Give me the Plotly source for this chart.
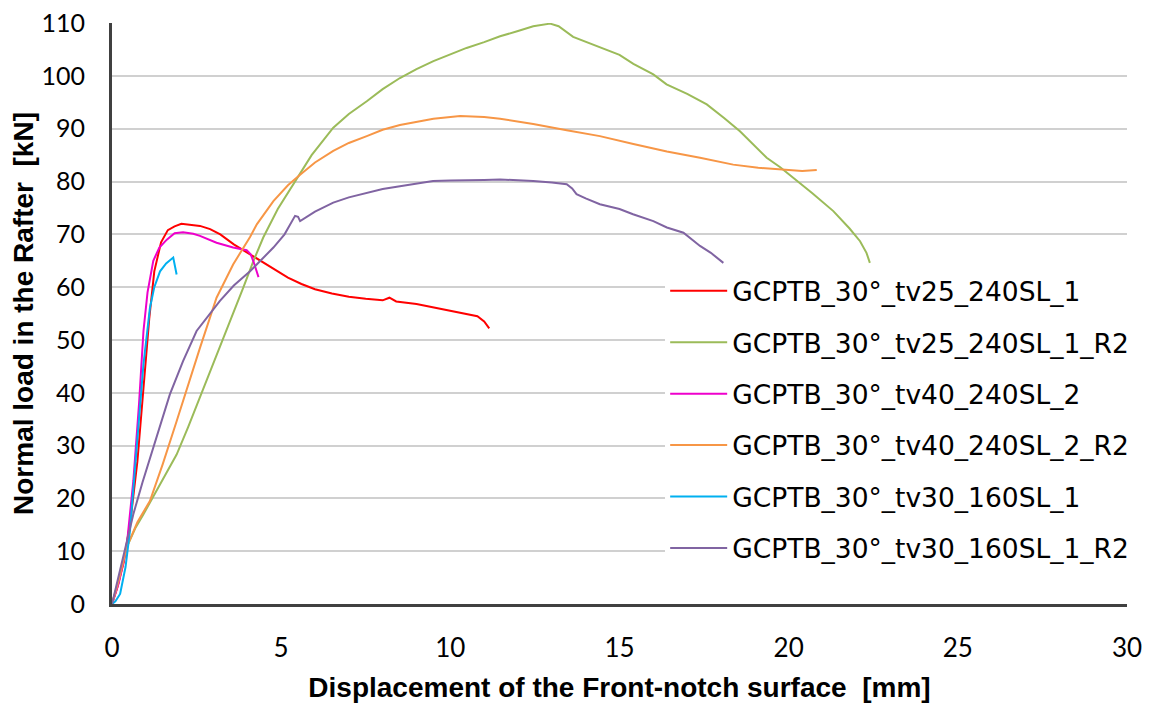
import plotly.graph_objects as go

# ---- data ----
names = ["GCPTB_30°_tv25_240SL_1", "GCPTB_30°_tv25_240SL_1_R2", "GCPTB_30°_tv40_240SL_2",
         "GCPTB_30°_tv40_240SL_2_R2", "GCPTB_30°_tv30_160SL_1", "GCPTB_30°_tv30_160SL_1_R2"]
colors = ["#FF0000", "#9BBB59", "#EE00CC", "#F79646", "#00B0F0", "#8064A2"]

red_x = [0, 0.15, 0.35, 0.55, 0.75, 0.95, 1.1, 1.25, 1.45, 1.65, 1.85, 2.05, 2.3, 2.6, 2.9, 3.2, 3.6, 4.0,
         4.4, 4.8, 5.2, 5.6, 6.0, 6.5, 7.0, 7.5, 8.0, 8.2, 8.4, 9.0, 9.5, 10.0, 10.5, 10.8, 11.0, 11.15]
red_y = [0, 3, 8, 16, 27, 42, 54, 63, 68.5, 70.8, 71.5, 72, 71.8, 71.6, 71, 70, 68.1, 66.5,
         64.9, 63.3, 61.8, 60.6, 59.6, 58.8, 58.2, 57.8, 57.5, 58.0, 57.3, 56.8, 56.2, 55.6, 55.0, 54.5, 53.5, 52.2]

green_x = [0, 0.2, 0.43, 0.7, 0.93, 1.4, 1.91, 2.25, 2.6, 2.95, 3.29, 3.6, 3.88, 4.17, 4.47, 4.9, 5.36, 5.9,
           6.54, 7.0, 7.53, 8.0, 8.51, 9.0, 9.5, 10.0, 10.48, 11.0, 11.47, 12.0, 12.45, 12.95, 13.2, 13.63,
           14.0, 14.42, 15.0, 15.41, 16.0, 16.39, 17.0, 17.58, 18.1, 18.56, 19.0, 19.35, 19.75, 20.14, 20.7,
           21.32, 21.8, 22.11, 22.3, 22.4]
green_y = [0, 4.5, 10.7, 14.5, 17, 22.5, 28.3, 33.5, 39.1, 44.8, 50.4, 55.3, 59.9, 64.8, 69.4, 74.8, 79.4, 85,
           90.2, 92.8, 95.2, 97.5, 99.6, 101.3, 102.8, 104.1, 105.3, 106.4, 107.5, 108.5, 109.4, 109.9, 109.4, 107.4,
           106.5, 105.4, 104, 102.3, 100.3, 98.4, 96.6, 94.6, 92, 89.5, 86.8, 84.5, 82.7, 80.7, 77.8,
           74.4, 71.1, 68.7, 66.5, 64.6]

magenta_x = [0, 0.2, 0.43, 0.63, 0.8, 0.93, 1.05, 1.22, 1.4, 1.62, 1.85, 2.1, 2.4, 2.6, 3.09, 3.58, 3.98,
             4.1, 4.18, 4.33]
magenta_y = [0, 4, 10.7, 23.3, 38, 51.7, 59, 65, 67.5, 69, 70.2, 70.4, 70.1, 69.7, 68.4, 67.5, 67.0,
             66.2, 64.9, 61.9]

orange_x = [0, 0.2, 0.43, 0.75, 1.12, 1.5, 1.91, 2.25, 2.6, 3.09, 3.58, 4.08, 4.28, 4.77, 5.2, 5.56, 6.0, 6.54,
            7.0, 7.53, 8.0, 8.51, 9.0, 9.5, 10.29, 11.0, 11.47, 12.45, 13.44, 14.42, 15.41, 16.4, 17.38, 18.36,
            19.1, 19.84, 20.4, 20.83]
orange_y = [0, 4.5, 10.7, 15.5, 19.5, 26.5, 34.6, 41.5, 48.5, 58, 64.3, 69.5, 71.9, 76.3, 79.3, 81.3, 83.6, 85.8,
            87.3, 88.6, 89.8, 90.7, 91.3, 91.9, 92.4, 92.2, 91.9, 90.9, 89.7, 88.6, 87.1, 85.7, 84.5, 83.2,
            82.6, 82.3, 82.0, 82.2]

cyan_x = [0, 0.1, 0.24, 0.4, 0.53, 0.73, 0.93, 1.12, 1.25, 1.42, 1.6, 1.81, 1.86, 1.91]
cyan_y = [0, 0.5, 1.9, 7, 13.8, 29.6, 45.4, 56, 60, 63, 64.5, 65.6, 64, 62.4]

purple_x = [0, 0.3, 0.63, 0.9, 1.22, 1.71, 2.1, 2.5, 3.19, 3.6, 4.08, 4.77, 5.1, 5.41, 5.5, 5.56, 6.0, 6.54,
            7.0, 7.53, 8.0, 8.51, 9.0, 9.49, 10.0, 10.48, 11.0, 11.47, 12.0, 12.45, 13.0, 13.44, 13.6, 13.73,
            14.0, 14.42, 15.0, 15.4, 16.0, 16.4, 16.89, 17.1, 17.38, 17.7, 18.07]
purple_y = [0, 8, 17, 23, 29.6, 39.7, 46, 51.7, 57.4, 60.3, 63, 67.5, 70, 73.5, 73.3, 72.5, 74.3, 76,
            77, 77.9, 78.6, 79.1, 79.6, 80.1, 80.2, 80.2, 80.3, 80.4, 80.3, 80.1, 79.8, 79.5, 78.7, 77.6,
            76.8, 75.7, 74.8, 73.8, 72.5, 71.3, 70.3, 69.3, 67.8, 66.5, 64.6]

x_ticks = [0, 5, 10, 15, 20, 25, 30]
y_ticks = [0, 10, 20, 30, 40, 50, 60, 70, 80, 90, 100, 110]

series = [(red_x, red_y), (green_x, green_y), (magenta_x, magenta_y),
          (orange_x, orange_y), (cyan_x, cyan_y), (purple_x, purple_y)]

fig = go.Figure()
for i, ((xs, ys), nm, c) in enumerate(zip(series, names, colors)):
    fig.add_trace(go.Scatter(x=xs, y=ys, mode="lines", name=nm, legendgroup=str(i),
                             line=dict(color=c, width=2)))

# page body has an 8px margin, so the figure is drawn 8px smaller and margins shifted
fig.update_layout(
    width=1145, height=695, autosize=False,
    margin=dict(l=104, r=26, t=15, b=99),
    plot_bgcolor="white", paper_bgcolor="white",
    showlegend=True,
    legend=dict(x=0.545, y=0.58, xanchor="left", yanchor="top", bgcolor="white",
                font=dict(family="DejaVu Sans, sans-serif", size=26.5, color="#000000"),
                itemwidth=57, tracegroupgap=14, traceorder="grouped"),
    xaxis=dict(range=[0, 30], tickvals=x_ticks, ticktext=[str(v) for v in x_ticks],
               showgrid=False, zeroline=False, showline=True, linecolor="#404040", linewidth=3,
               tickfont=dict(family="Lato, sans-serif", size=26, color="#000000"),
               ticks="", ticklabelstandoff=19, automargin=False,
               title=dict(text="<b>Displacement of the Front-notch surface  [mm]</b>",
                          font=dict(family="Liberation Sans, Arial", size=28, color="#000000"),
                          standoff=16)),
    yaxis=dict(range=[0, 110.02], tickvals=y_ticks, ticktext=[str(v) for v in y_ticks],
               showgrid=True, gridcolor="#D0D0D0", gridwidth=1.5, zeroline=False,
               showline=True, linecolor="#404040", linewidth=3,
               tickfont=dict(family="Lato, sans-serif", size=25, color="#000000"),
               ticks="", ticklabelstandoff=19, automargin=False,
               ticklabeloverflow="allow",
               title=dict(text="<b>Normal load in the Rafter  [kN]</b>",
                          font=dict(family="Liberation Sans, Arial", size=28, color="#000000"),
                          standoff=8)),
)

fig.write_html("out.html")
